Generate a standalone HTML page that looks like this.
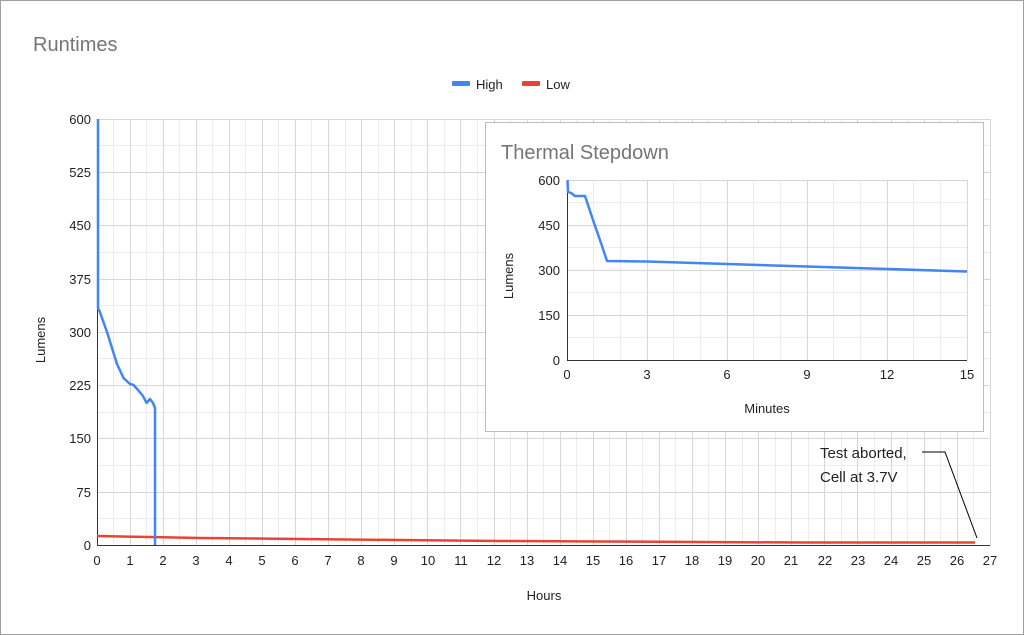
<!DOCTYPE html>
<html><head><style>
body{margin:0;background:#fff}
svg{display:block;font-family:"Liberation Sans",Arial,sans-serif}
</style></head><body>
<svg width="1024" height="635" viewBox="0 0 1024 635">
<rect x="0.5" y="0.5" width="1023" height="634" fill="#fff" stroke="#9e9e9e"/>
<text x="33" y="51" font-size="20" fill="#757575">Runtimes</text>
<rect x="452" y="81" width="18" height="5" rx="1" fill="#4285f4"/>
<text x="476" y="89" font-size="13" fill="#222">High</text>
<rect x="522" y="81" width="18" height="5" rx="1" fill="#ea4335"/>
<text x="546" y="89" font-size="13" fill="#222">Low</text>
<g id="grid" stroke-width="1">
<script>/* placeholder */</script>
</g>
<g stroke="#ececec">
<path d="M113.5 119V545M146.5 119V545M179.5 119V545M212.5 119V545M245.5 119V545M278.5 119V545M311.5 119V545M345.5 119V545M378.5 119V545M411.5 119V545M444.5 119V545M477.5 119V545M510.5 119V545M543.5 119V545M576.5 119V545M609.5 119V545M642.5 119V545M675.5 119V545M708.5 119V545M742.5 119V545M775.5 119V545M808.5 119V545M841.5 119V545M874.5 119V545M907.5 119V545M940.5 119V545M973.5 119V545"/>
<path d="M97 145.5H990M97 199.5H990M97 252.5H990M97 305.5H990M97 358.5H990M97 412.5H990M97 465.5H990M97 518.5H990"/>
</g>
<g stroke="#d6d6d6">
<path d="M130.5 119V545M163.5 119V545M196.5 119V545M229.5 119V545M262.5 119V545M295.5 119V545M328.5 119V545M361.5 119V545M394.5 119V545M427.5 119V545M460.5 119V545M494.5 119V545M527.5 119V545M560.5 119V545M593.5 119V545M626.5 119V545M659.5 119V545M692.5 119V545M725.5 119V545M758.5 119V545M791.5 119V545M824.5 119V545M857.5 119V545M891.5 119V545M924.5 119V545M957.5 119V545M990.5 119V545"/>
<path d="M97 119.5H990M97 172.5H990M97 225.5H990M97 279.5H990M97 332.5H990M97 385.5H990M97 438.5H990M97 492.5H990"/>
</g>
<path d="M97.5 119V545.5H990" stroke="#333" fill="none"/>
<g font-size="13" fill="#222" text-anchor="end">
<text x="91" y="124">600</text><text x="91" y="177">525</text><text x="91" y="230">450</text><text x="91" y="284">375</text><text x="91" y="337">300</text><text x="91" y="390">225</text><text x="91" y="443">150</text><text x="91" y="497">75</text><text x="91" y="550">0</text>
</g>
<g font-size="13" fill="#222" text-anchor="middle">
<text x="97" y="565">0</text><text x="130" y="565">1</text><text x="163" y="565">2</text><text x="196" y="565">3</text><text x="229" y="565">4</text><text x="262" y="565">5</text><text x="295" y="565">6</text><text x="328" y="565">7</text><text x="361" y="565">8</text><text x="394" y="565">9</text><text x="428" y="565">10</text><text x="461" y="565">11</text><text x="494" y="565">12</text><text x="527" y="565">13</text><text x="560" y="565">14</text><text x="593" y="565">15</text><text x="626" y="565">16</text><text x="659" y="565">17</text><text x="692" y="565">18</text><text x="725" y="565">19</text><text x="758" y="565">20</text><text x="791" y="565">21</text><text x="825" y="565">22</text><text x="858" y="565">23</text><text x="891" y="565">24</text><text x="924" y="565">25</text><text x="957" y="565">26</text><text x="990" y="565">27</text>
<text x="544" y="600">Hours</text>
<text transform="translate(45,340) rotate(-90)">Lumens</text>
</g>
<polyline fill="none" stroke="#ea4335" stroke-width="2.5" points="97,536 150,537 200,538 300,539 400,540 500,541 600,541.5 700,542 800,542.5 900,542.5 975,542.5"/>
<polyline fill="none" stroke="#4285f4" stroke-width="2.5" stroke-linejoin="round" points="98,119 98,308 99.5,311 107,332 117,364 123.5,378 130,384 133.5,385 138,390 143,396 146.5,403 150,399 153,403 155,408 155,545"/>
<text x="820" y="458" font-size="15" fill="#222">Test aborted,</text>
<text x="820" y="482" font-size="15" fill="#222">Cell at 3.7V</text>
<polyline fill="none" stroke="#000" stroke-width="1" points="922,452 945,452 977,538"/>
<!-- inset -->
<rect x="485.5" y="122.5" width="498" height="309" fill="#fff" stroke="#bdbdbd"/>
<text x="501" y="159" font-size="20" fill="#757575">Thermal Stepdown</text>
<g stroke="#ececec">
<path d="M593.5 180V360M620.5 180V360M673.5 180V360M700.5 180V360M753.5 180V360M780.5 180V360M833.5 180V360M860.5 180V360M913.5 180V360M940.5 180V360"/>
<path d="M567 202.5H967M567 247.5H967M567 292.5H967M567 337.5H967"/>
</g>
<g stroke="#d6d6d6">
<path d="M647.5 180V360M727.5 180V360M807.5 180V360M887.5 180V360M967.5 180V360"/>
<path d="M567 180.5H967M567 225.5H967M567 270.5H967M567 315.5H967"/>
</g>
<path d="M567.5 180V360.5H967" stroke="#333" fill="none"/>
<g font-size="13" fill="#222" text-anchor="end">
<text x="560" y="185">600</text><text x="560" y="230">450</text><text x="560" y="275">300</text><text x="560" y="320">150</text><text x="560" y="365">0</text>
</g>
<g font-size="13" fill="#222" text-anchor="middle">
<text x="567" y="379">0</text><text x="647" y="379">3</text><text x="727" y="379">6</text><text x="807" y="379">9</text><text x="887" y="379">12</text><text x="967" y="379">15</text>
<text x="767" y="413">Minutes</text>
<text transform="translate(513,276) rotate(-90)">Lumens</text>
</g>
<polyline fill="none" stroke="#4285f4" stroke-width="2.5" stroke-linejoin="round" points="567.5,180 568,192 571,193 575,196 585,196 593,220 601,243 607,261 647,261.5 727,264 807,266.5 887,269 967,271.5"/>
</svg>
</body></html>
